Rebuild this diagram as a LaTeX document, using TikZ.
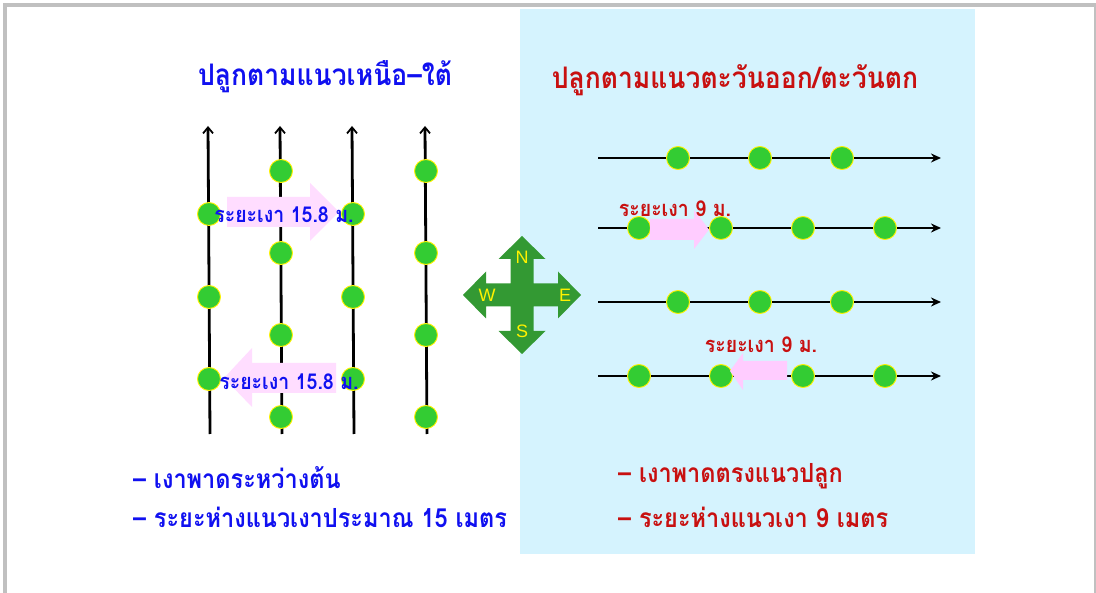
\documentclass[tikz,border=0pt]{standalone}
\usepackage{graphicx}
\usepackage{fontspec}
\usetikzlibrary{arrows.meta}
\newfontfamily\thai[Script=Thai]{Loma}
\newfontfamily\latinsans{Liberation Sans}
\newcommand\vstr[1]{\scalebox{1}[1.12]{#1}}
\definecolor{skyblue}{HTML}{D5F3FE}
\definecolor{framegray}{HTML}{C0C0C0}
\definecolor{treegreen}{HTML}{33CC33}
\definecolor{compassgreen}{HTML}{339933}
\definecolor{pinkA}{HTML}{FFDDFF}
\definecolor{pinkB}{HTML}{FFCCFF}
\definecolor{tblue}{HTML}{1010F0}
\definecolor{tred}{HTML}{C81010}
\begin{document}
\begin{tikzpicture}[x=1pt,y=-1pt,
  tree/.style={circle,fill=treegreen,draw=yellow,line width=0.9pt,minimum size=23pt,inner sep=0pt},
  vline/.style={line width=2.8pt,black,-{Straight Barb[length=6pt,width=10pt,line width=1.8pt]}},
  hline/.style={line width=2.8pt,black,-{Stealth[length=10pt,width=9pt]}},
  title/.style={font=\thai\bfseries\fontsize{26.5}{30}\selectfont,inner sep=0pt},
  note/.style={font=\thai\bfseries\fontsize{23.5}{27}\selectfont,inner sep=0pt,anchor=west},
  shade/.style={font=\thai\bfseries\fontsize{19.5}{23}\selectfont,inner sep=0pt},
  dirletter/.style={font=\latinsans\fontsize{18}{21}\selectfont,text=yellow,inner sep=0pt}]
\useasboundingbox (0,0) rectangle (1096,593);
\fill[white] (0,0) rectangle (1096,593);
\fill[skyblue] (520,9) rectangle (975,554);
\fill[framegray] (3,3) rectangle (1096,7);
\fill[framegray] (3,3) rectangle (7,593);
\fill[framegray] (1093.5,3) rectangle (1096,593);

% titles
\node[title,text=tblue] (titleL) at (325,77) {\vstr{ปลูกตามแนวเหนือ–ใต้}};
\node[title,text=tred] (titleR) at (735,80) {\vstr{ปลูกตามแนวตะวันออก/ตะวันตก}};

% vertical rows (north-south)
\foreach \x/\n in {209/1,281/2,353/3,426/4}{
  \coordinate (vb\n) at (\x+1,434);
  \coordinate (vt\n) at (\x-1,126);
  \draw[vline] (vb\n) -- (vt\n);
}
% pink shade arrows (left)
\fill[pinkA] (227,197) -- (310,197) -- (310,183) -- (339,212) -- (310,241) -- (310,227) -- (227,227) -- cycle;
\fill[pinkA] (336,363) -- (252,363) -- (252,348) -- (224,378) -- (252,407) -- (252,393) -- (336,393) -- cycle;

\foreach \y/\m in {214/a,297/b,379/c}{
  \node[tree] (c1\m) at (209,\y) {};
  \node[tree] (c3\m) at (353,\y) {};
}
\foreach \y/\m in {171/a,253/b,335/c,417/d}{
  \node[tree] (c2\m) at (281,\y) {};
  \node[tree] (c4\m) at (426,\y) {};
}
\node[shade,text=tblue] (sL1) at (284,215) {\vstr{ระยะเงา 15.8 ม.}};
\node[shade,text=tblue] (sL2) at (289,382) {\vstr{ระยะเงา 15.8 ม.}};

% compass
\def\cx{522}\def\cy{295}
\fill[compassgreen] (\cx,\cy-59) -- (\cx+23.5,\cy-36) -- (\cx+11.5,\cy-36) -- (\cx+11.5,\cy-11.5)
  -- (\cx+36,\cy-11.5) -- (\cx+36,\cy-23.5) -- (\cx+59,\cy) -- (\cx+36,\cy+23.5) -- (\cx+36,\cy+11.5)
  -- (\cx+11.5,\cy+11.5) -- (\cx+11.5,\cy+36) -- (\cx+23.5,\cy+36) -- (\cx,\cy+59) -- (\cx-23.5,\cy+36)
  -- (\cx-11.5,\cy+36) -- (\cx-11.5,\cy+11.5) -- (\cx-36,\cy+11.5) -- (\cx-36,\cy+23.5) -- (\cx-59,\cy)
  -- (\cx-36,\cy-23.5) -- (\cx-36,\cy-11.5) -- (\cx-11.5,\cy-11.5) -- (\cx-11.5,\cy-36) -- (\cx-23.5,\cy-36) -- cycle;
\node[dirletter] (N) at (522,257) {N};
\node[dirletter] (S) at (522,331) {S};
\node[dirletter] (W) at (487,295) {W};
\node[dirletter] (E) at (565,295) {E};

% horizontal rows (east-west)
\foreach \y/\n in {158/1,228/2,302/3,376/4}{
  \coordinate (hl\n) at (598,\y);
  \coordinate (hr\n) at (941,\y);
  \draw[hline] (hl\n) -- (hr\n);
}
\foreach \x/\m in {678/a,760/b,842/c}{
  \node[tree] (r1\m) at (\x,158) {};
  \node[tree] (r3\m) at (\x,302) {};
}
\foreach \x/\m in {639/a,721/b,803/c,885/d}{
  \node[tree] (r2\m) at (\x,228) {};
  \node[tree] (r4\m) at (\x,376) {};
}
\fill[pinkB] (650,219) -- (694,219) -- (694,210) -- (709,229.5) -- (694,249) -- (694,240) -- (650,240) -- cycle;
\fill[pinkB] (787,361) -- (743,361) -- (743,353) -- (730,371) -- (743,390) -- (743,380) -- (787,380) -- cycle;
\node[shade,text=tred] (sR1) at (675,209) {\vstr{ระยะเงา 9 ม.}};
\node[shade,text=tred] (sR2) at (761,345) {\vstr{ระยะเงา 9 ม.}};

% notes
\node[note,text=tblue] (nL1) at (133,478) {\vstr{– เงาพาดระหว่างต้น}};
\node[note,text=tblue] (nL2) at (133,517) {\vstr{– ระยะห่างแนวเงาประมาณ 15 เมตร}};
\node[note,text=tred] (nR1) at (618,476) {\vstr{– เงาพาดตรงแนวปลูก}};
\node[note,text=tred] (nR2) at (618,517) {\vstr{– ระยะห่างแนวเงา 9 เมตร}};
\end{tikzpicture}
\end{document}
